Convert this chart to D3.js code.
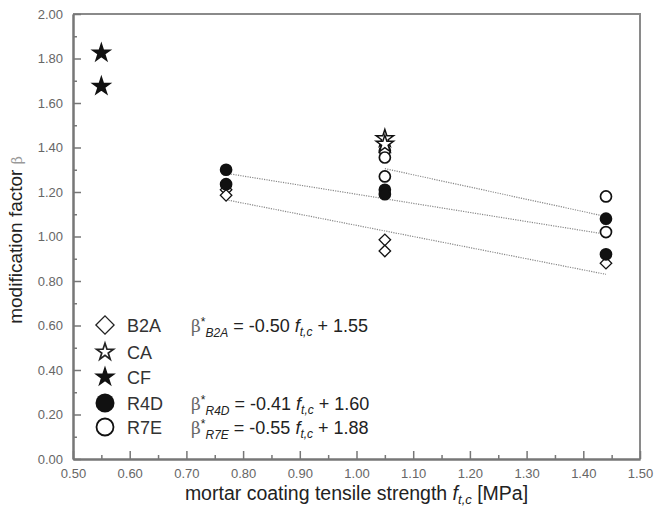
<!DOCTYPE html>
<html>
<head>
<meta charset="utf-8">
<script src="https://cdn.jsdelivr.net/npm/d3@7"></script>
<style>
  body { margin: 0; background: #fff; }
  text { font-family: "Liberation Sans", Arial, sans-serif; }
</style>
</head>
<body>
<svg class="chart"></svg>
<script>
// data
const b2a = [[0.77, 1.21], [0.77, 1.185], [1.05, 0.985], [1.05, 0.935], [1.44, 0.88]];
const ca = [[1.05, 1.44], [1.05, 1.415]];
const cf = [[0.55, 1.825], [0.55, 1.675]];
const r4d = [[0.77, 1.30], [0.77, 1.235], [1.05, 1.21], [1.05, 1.19], [1.44, 1.08], [1.44, 0.92]];
const r7e = [[1.05, 1.385], [1.05, 1.355], [1.05, 1.27], [1.44, 1.18], [1.44, 1.02]];

// fitted lines, endpoints as drawn
const fitB2A = [[0.77, 1.165], [1.44, 0.83]];
const fitR4D = [[0.77, 1.284], [1.44, 1.01]];
const fitR7E = [[1.05, 1.305], [1.44, 1.09]];

const xTicks = [0.5, 0.6, 0.7, 0.8, 0.9, 1.0, 1.1, 1.2, 1.3, 1.4, 1.5];
const yTicks = [0, 0.2, 0.4, 0.6, 0.8, 1.0, 1.2, 1.4, 1.6, 1.8, 2.0];

const legendNames = ["B2A", "CA", "CF", "R4D", "R7E"];
const equations = [
    { sub: "B2A", slope: "-0.50", icpt: "1.55" },
    null,
    null,
    { sub: "R4D", slope: "-0.41", icpt: "1.60" },
    { sub: "R7E", slope: "-0.55", icpt: "1.88" }
];

function makeChart() {
    const svgWidth = 654,
        svgHeight = 509;
    const margin = { top: 14, right: 14, bottom: 50, left: 73 };
    const width = svgWidth - margin.left - margin.right;
    const height = svgHeight - margin.top - margin.bottom;

    const canvas = d3.select(".chart")
        .attr("width", svgWidth)
        .attr("height", svgHeight);

    const plotArea = canvas.append("g")
        .attr("transform", `translate(${margin.left},${margin.top})`);

    // Scales
    const x = d3.scaleLinear().domain([0.5, 1.5]).range([0, width]);
    const y = d3.scaleLinear().domain([0, 2]).range([height, 0]);

    const axisColor = "#777";

    // frame top/right
    plotArea.append("path")
        .attr("d", `M0,0H${width}V${height}`)
        .attr("fill", "none")
        .attr("stroke", "#8a8a8a")
        .attr("stroke-width", 2);

    // Axes (ticks inward)
    const xAxis = plotArea.append("g")
        .attr("transform", `translate(0, ${height})`)
        .call(d3.axisBottom(x).tickValues(xTicks).tickSizeInner(-8).tickSizeOuter(0)
            .tickFormat(d3.format(".2f")));
    xAxis.selectAll(".tick text").attr("y", 10);

    const xMinor = plotArea.append("g")
        .attr("transform", `translate(0, ${height})`)
        .call(d3.axisBottom(x).tickValues(xTicks.slice(0, -1).map(v => v + 0.05))
            .tickSizeInner(-4).tickSizeOuter(0).tickFormat(""));

    const yAxis = plotArea.append("g")
        .call(d3.axisLeft(y).tickValues(yTicks).tickSizeInner(-8).tickSizeOuter(0)
            .tickFormat(d3.format(".2f")));
    yAxis.selectAll(".tick text").attr("x", -10);

    const yMinor = plotArea.append("g")
        .call(d3.axisLeft(y).tickValues(yTicks.slice(0, -1).map(v => v + 0.1))
            .tickSizeInner(-4).tickSizeOuter(0).tickFormat(""));

    [xAxis, xMinor, yAxis, yMinor].forEach(g => {
        g.select(".domain").attr("stroke", axisColor).attr("stroke-width", 2);
        g.selectAll(".tick line").attr("stroke", axisColor).attr("stroke-width", 1.5);
        g.selectAll(".tick text")
            .attr("fill", "#666")
            .style("font-family", "'Liberation Sans', Arial, sans-serif")
            .style("font-size", "13px");
    });

    // Axis labels
    canvas.append("text")
        .attr("transform", "rotate(-90)")
        .attr("x", -240)
        .attr("y", 22)
        .attr("text-anchor", "middle")
        .attr("fill", "#222")
        .style("font-size", "19px")
        .text("modification factor ")
        .append("tspan")
        .attr("fill", "#999")
        .style("font-family", "'DejaVu Serif', serif")
        .style("font-size", "14px")
        .text("β");

    const xl = canvas.append("text")
        .attr("x", margin.left + width / 2)
        .attr("y", 500)
        .attr("text-anchor", "middle")
        .attr("fill", "#222")
        .style("font-size", "19.5px");
    xl.append("tspan").text("mortar coating tensile strength ");
    xl.append("tspan").style("font-style", "italic").text("f");
    xl.append("tspan").style("font-style", "italic").style("font-size", "13px")
        .attr("dy", 4).text("t,c");
    xl.append("tspan").attr("dy", -4).text(" [MPa]");

    // Fitted lines
    const line = d3.line().x(d => x(d[0])).y(d => y(d[1]));
    [fitB2A, fitR4D, fitR7E].forEach(f => {
        plotArea.append("path")
            .datum(f)
            .attr("fill", "none")
            .attr("stroke", "#888")
            .attr("stroke-width", 1.2)
            .attr("stroke-dasharray", "1.2,1.2")
            .attr("d", line);
    });

    // symbols
    const diamond = d3.symbol().type(d3.symbolSquare).size(66)();
    const starFilled = d3.symbol().type(d3.symbolStar).size(92)();
    const starHollow = d3.symbol().type(d3.symbolStar).size(92)();

    function drawPoints(data, path, fill, sw, rotate) {
        plotArea.append("g").selectAll("path")
            .data(data)
            .enter().append("path")
            .attr("d", path)
            .attr("fill", fill)
            .attr("stroke", "#111")
            .attr("stroke-width", sw)
            .attr("stroke-linejoin", "miter")
            .attr("transform", d => `translate(${x(d[0])},${y(d[1])})` + (rotate ? " rotate(45)" : ""));
    }
    function drawCircles(data, fill) {
        plotArea.append("g").selectAll("circle")
            .data(data)
            .enter().append("circle")
            .attr("cx", d => x(d[0]))
            .attr("cy", d => y(d[1]))
            .attr("r", 5.5)
            .attr("fill", fill)
            .attr("stroke", "#111")
            .attr("stroke-width", 1.7);
    }

    drawPoints(b2a, diamond, "#fff", 1.3, true);
    drawCircles(r4d, "#111");
    drawCircles(r7e, "#fff");
    drawPoints(ca, starHollow, "#fff", 1.5, false);
    drawPoints(cf, starFilled, "#111", 1.5, false);

    // Legend
    const legend = canvas.append("g").attr("transform", "translate(105, 325)");
    const rowY = [0, 27, 52, 78, 102];
    const legendSym = [
        g => g.append("path").attr("d", d3.symbol().type(d3.symbolSquare).size(165)())
            .attr("transform", "rotate(45)").attr("fill", "#fff").attr("stroke", "#222").attr("stroke-width", 1.3),
        g => g.append("path").attr("d", d3.symbol().type(d3.symbolStar).size(88)())
            .attr("fill", "#fff").attr("stroke", "#222").attr("stroke-width", 1.7),
        g => g.append("path").attr("d", d3.symbol().type(d3.symbolStar).size(92)())
            .attr("fill", "#111").attr("stroke", "#111").attr("stroke-width", 1.5),
        g => g.append("circle").attr("r", 9.5).attr("fill", "#111"),
        g => g.append("circle").attr("r", 8.5).attr("fill", "#fff").attr("stroke", "#111").attr("stroke-width", 1.8)
    ];
    legendNames.forEach((name, i) => {
        const row = legend.append("g").attr("transform", `translate(0, ${rowY[i]})`);
        legendSym[i](row);
        row.append("text")
            .attr("x", 22)
            .attr("y", 7)
            .attr("fill", "#333")
            .style("font-size", "18px")
            .text(name);
        const eq = equations[i];
        if (eq) {
            const t = row.append("text")
                .attr("x", 86)
                .attr("y", 7)
                .attr("fill", "#222")
                .style("font-size", "18px");
            t.append("tspan").style("font-family", "'DejaVu Serif', serif").attr("fill", "#666")
                .style("font-size", "17px").text("β");
            t.append("tspan").attr("dy", -6).style("font-size", "12px").text("*");
            t.append("tspan").attr("dy", 11).style("font-size", "12px").style("font-style", "italic").text(eq.sub);
            t.append("tspan").attr("dy", -5).text(` = ${eq.slope} `);
            t.append("tspan").style("font-style", "italic").text("f");
            t.append("tspan").attr("dy", 4).style("font-size", "12px").style("font-style", "italic").text("t,c");
            t.append("tspan").attr("dy", -4).text(` + ${eq.icpt}`);
        }
    });
}

makeChart();
</script>
</body>
</html>
